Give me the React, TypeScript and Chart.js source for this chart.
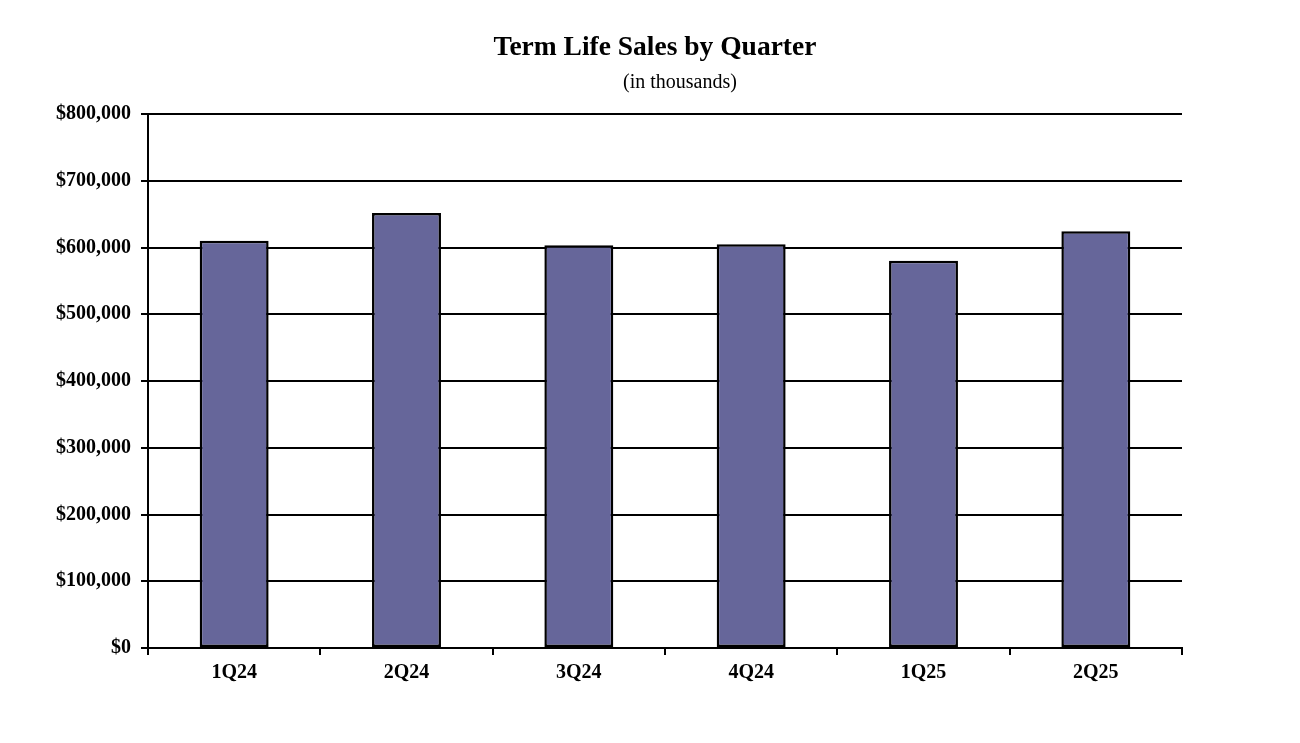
import React, { useEffect, useRef } from "react";
import { Chart, registerables } from "chart.js";

Chart.register(...registerables);

const categories = ["1Q24", "2Q24", "3Q24", "4Q24", "1Q25", "2Q25"];
const sales = [610000, 651500, 603500, 605000, 580000, 624500];
const yTicks = [0, 100000, 200000, 300000, 400000, 500000, 600000, 700000, 800000];
const titleText = "Term Life Sales by Quarter";
const subtitleText = "(in thousands)";

const FONT = "'Liberation Serif', 'Times New Roman', serif";

const titlePlugin = {
  id: "customTitles",
  afterDraw(chart: any) {
    const ctx = chart.ctx;
    ctx.save();
    ctx.fillStyle = "#000";
    ctx.textAlign = "center";
    ctx.textBaseline = "middle";
    ctx.font = `bold 27.5px ${FONT}`;
    ctx.fillText(titleText, 655, 48);
    ctx.font = `20px ${FONT}`;
    ctx.fillText(subtitleText, 680, 83);
    ctx.restore();
  },
};

export default function App() {
  const ref = useRef<HTMLCanvasElement>(null);
  useEffect(() => {
    if (!ref.current) return;
    const chart = new Chart(ref.current, {
      type: "bar",
      data: {
        labels: categories,
        datasets: [
          {
            label: "Term Life Sales",
            data: sales,
            backgroundColor: "#66669a",
            borderColor: "#000000",
            borderWidth: 2.5,
            borderSkipped: false,
            categoryPercentage: 1,
            barPercentage: 0.4,
          },
        ],
      },
      options: {
        animation: false,
        responsive: false,
        maintainAspectRatio: false,
        layout: { padding: { left: 8, right: 118, top: 114, bottom: 52 } },
        plugins: {
          legend: { display: false },
          tooltip: { enabled: false },
          title: { display: false },
        },
        scales: {
          x: {
            offset: true,
            grid: {
              display: true,
              offset: true,
              drawOnChartArea: false,
              drawTicks: true,
              tickLength: 7,
              color: "#000",
              lineWidth: 2,
            },
            border: { display: true, color: "#000", width: 2 },
            ticks: {
              color: "#000",
              font: { family: FONT, size: 20, weight: "bold" },
              padding: 6,
              maxRotation: 0,
            },
          },
          y: {
            min: 0,
            max: 800000,
            afterFit: (scale: any) => {
              scale.width = 140;
            },
            afterBuildTicks: (scale: any) => {
              scale.ticks = yTicks.map((v) => ({ value: v }));
            },
            grid: {
              color: "#000",
              lineWidth: 2,
              tickLength: 7,
            },
            border: { display: true, color: "#000", width: 2 },
            ticks: {
              color: "#000",
              font: { family: FONT, size: 20, weight: "bold" },
              padding: 10,
              callback: (v: any) => "$" + Number(v).toLocaleString("en-US"),
            },
          },
        },
      },
      plugins: [titlePlugin],
    });
    return () => chart.destroy();
  }, []);
  return (
    <div style={{ position: "fixed", left: 0, top: 0, width: 1300, height: 743, background: "#fff" }}>
      <canvas ref={ref} width={1300} height={743} style={{ width: 1300, height: 743 }} />
    </div>
  );
}
